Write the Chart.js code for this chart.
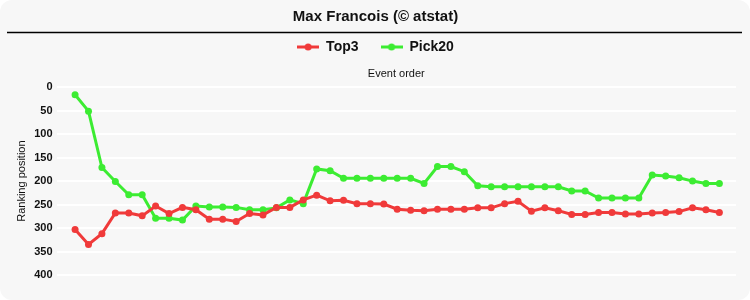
<!DOCTYPE html>
<html>
<head>
<meta charset="utf-8">
<script src="https://cdn.jsdelivr.net/npm/chart.js@4"></script>
<style>
html,body{margin:0;padding:0;background:#ffffff;}
#card{position:absolute;left:0;top:0;width:750px;height:300px;background:#f7f7f7;border-radius:12px;overflow:hidden;}
canvas{display:block;}
</style>
</head>
<body>
<div id="card"><canvas id="c" width="750" height="300"></canvas></div>
<script>
const chartTitle = "Max Francois (\u00a9 atstat)";
const xTitle = "Event order";
const yTitle = "Ranking position";
const seriesNames = ["Top3", "Pick20"];
const top3 = [303,335,312,268,268,274,253,269,256,261,281,281,286,269,272,256,256,240,230,242,241,248,248,249,260,262,263,260,260,260,257,257,248,243,264,257,263,271,271,267,267,270,270,268,267,265,257,261,267];
const pick20 = [16,51,171,201,229,229,279,279,283,253,255,255,256,261,261,257,240,248,174,178,194,194,194,194,194,194,205,169,169,180,210,212,212,212,212,212,212,221,221,236,236,236,236,187,189,193,200,205,205];
const yTicks = [0,50,100,150,200,250,300,350,400];
const colors = ["#f03a3a", "#3cec32"];

const sans = "'Liberation Sans',Arial,sans-serif";

function legendIcon(color){
  const cv = document.createElement('canvas');
  cv.width = 22; cv.height = 10;
  const g = cv.getContext('2d');
  g.strokeStyle = color; g.lineWidth = 3;
  g.beginPath(); g.moveTo(0,5); g.lineTo(22,5); g.stroke();
  g.fillStyle = color; g.beginPath(); g.arc(11,5,3.5,0,Math.PI*2); g.fill();
  return cv;
}

const rule = {
  id:'rule',
  afterDraw(chart){
    const ctx = chart.ctx;
    ctx.save();
    ctx.strokeStyle = '#000'; ctx.lineWidth = 1.3;
    ctx.beginPath(); ctx.moveTo(7,32.5); ctx.lineTo(742,32.5); ctx.stroke();
    ctx.restore();
  }
};

const mk = (arr) => arr.map((v,i)=>({x:i,y:v}));

new Chart(document.getElementById('c'), {
  type:'line',
  data:{
    datasets:[
      {label:seriesNames[0], data:mk(top3), borderColor:colors[0], backgroundColor:colors[0], borderWidth:3, pointRadius:3.5, pointBorderWidth:0, tension:0},
      {label:seriesNames[1], data:mk(pick20), borderColor:colors[1], backgroundColor:colors[1], borderWidth:3, pointRadius:3.5, pointBorderWidth:0, tension:0}
    ]
  },
  options:{
    responsive:false,
    animation:false,
    layout:{padding:{left:15,right:14,bottom:25,top:0}},
    plugins:{
      title:{display:true,text:chartTitle,color:'#111',font:{family:sans,size:15,weight:'bold'},padding:{top:8,bottom:-8}},
      legend:{
        display:true,
        labels:{
          usePointStyle:true,
          pointStyleWidth:22,
          color:'#111',
          font:{family:sans,size:14,weight:'bold'},
          padding:22,
          generateLabels(chart){
            return chart.data.datasets.map((d,i)=>({text:d.label,pointStyle:legendIcon(d.borderColor),fillStyle:d.borderColor,strokeStyle:d.borderColor,lineWidth:0,datasetIndex:i,fontColor:'#111'}));
          }
        }
      },
      tooltip:{enabled:false}
    },
    scales:{
      x:{
        type:'linear', position:'top', min:-1.38, max:49.24,
        title:{display:true,text:xTitle,color:'#111',font:{family:sans,size:11},padding:{top:3,bottom:-1}},
        ticks:{display:false},
        grid:{display:false},
        border:{display:false}
      },
      y:{
        reverse:true, min:0, max:400,
        afterBuildTicks(axis){ axis.ticks = yTicks.map(v=>({value:v})); },
        title:{display:true,text:yTitle,color:'#111',font:{family:sans,size:11},padding:{top:0,bottom:2}},
        ticks:{color:'#111',font:{family:sans,size:11,weight:'bold'},padding:4},
        grid:{color:'#ffffff',lineWidth:2,drawTicks:false},
        border:{display:false}
      }
    }
  },
  plugins:[rule]
});
</script>
</body>
</html>
